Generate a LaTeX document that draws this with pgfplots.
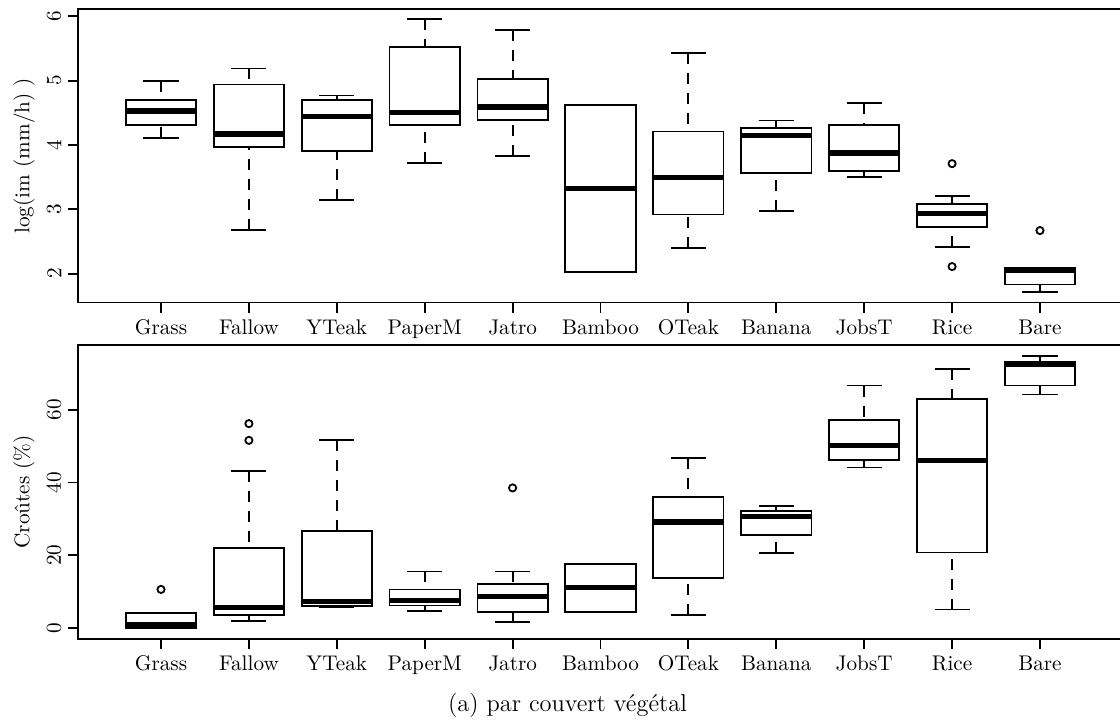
\documentclass[border=0pt]{standalone}
\usepackage{pgfplots}
\pgfplotsset{compat=1.18}
\usepgfplotslibrary{statistics}

% one box: position, lower whisker, Q1, median, Q3, upper whisker, outliers
\newcommand{\bx}[7]{\addplot[boxplot prepared={draw position=#1,
  lower whisker=#2, lower quartile=#3, median=#4,
  upper quartile=#5, upper whisker=#6}] coordinates {#7};}

\pgfplotsset{
  rbox/.style={
    scale only axis, width=522.1pt, height=146.8pt,
    anchor=south west,
    xmin=0.06, xmax=11.94,
    xtick={1,...,11},
    xticklabels={Grass,Fallow,YTeak,PaperM,Jatro,Bamboo,OTeak,Banana,JobsT,Rice,Bare},
    tick pos=left, tick align=outside, major tick length=5pt, minor tick num=0,
    axis line style={line width=0.9pt},
    tick style={line width=0.9pt, black},
    yticklabel style={rotate=90, anchor=south},
    /pgf/number format/assume math mode=true,
    ylabel style={at={(axis description cs:-0.0521,0.5)}, anchor=center},
    boxplot/draw direction=y,
    boxplot/box extend=0.8, boxplot/whisker extend=0.4,
    boxplot/every box/.style={draw=black, line width=0.9pt},
    boxplot/every median/.style={draw=black, line width=2.6pt},
    boxplot/draw/lower whisker/.code={
      \draw[black, line width=0.9pt, dash pattern=on 5.5pt off 4.5pt]
        (boxplot box cs:\pgfplotsboxplotvalue{lower whisker},0.5) --
        (boxplot box cs:\pgfplotsboxplotvalue{lower quartile},0.5);
      \draw[black, line width=0.9pt]
        (boxplot whisker cs:\pgfplotsboxplotvalue{lower whisker},0) --
        (boxplot whisker cs:\pgfplotsboxplotvalue{lower whisker},1);
    },
    boxplot/draw/upper whisker/.code={
      \draw[black, line width=0.9pt, dash pattern=on 5.5pt off 4.5pt]
        (boxplot box cs:\pgfplotsboxplotvalue{upper whisker},0.5) --
        (boxplot box cs:\pgfplotsboxplotvalue{upper quartile},0.5);
      \draw[black, line width=0.9pt]
        (boxplot whisker cs:\pgfplotsboxplotvalue{upper whisker},0) --
        (boxplot whisker cs:\pgfplotsboxplotvalue{upper whisker},1);
    },
    every axis plot/.append style={black, mark=o, mark size=1.8pt,
      mark options={solid, line width=0.9pt}},
  }
}

\begin{document}
\begin{tikzpicture}[font=\fontsize{10.6}{12.7}\selectfont]
\path[use as bounding box] (0,0) rectangle (560pt,363.5pt);

\begin{axis}[rbox, at={(39.2pt,212.2pt)},
    ymin=1.55, ymax=6.115, ytick={2,3,4,5,6},
    ylabel={log(im (mm/h) )}]
\bx{1}{4.115}{4.31}{4.53}{4.70}{5.00}{}
\bx{2}{2.68}{3.97}{4.17}{4.94}{5.19}{}
\bx{3}{3.15}{3.91}{4.44}{4.70}{4.77}{}
\bx{4}{3.72}{4.31}{4.51}{5.52}{5.96}{}
\bx{5}{3.83}{4.39}{4.59}{5.03}{5.79}{}
\bx{6}{2.03}{2.03}{3.33}{4.62}{4.62}{}
\bx{7}{2.40}{2.92}{3.50}{4.21}{5.43}{}
\bx{8}{2.98}{3.57}{4.15}{4.27}{4.38}{}
\bx{9}{3.50}{3.60}{3.875}{4.31}{4.65}{}
\bx{10}{2.41}{2.73}{2.94}{3.08}{3.21}{(0,3.71) (0,2.11)}
\bx{11}{1.71}{1.83}{2.05}{2.09}{2.09}{(0,2.67)}
\end{axis}

\begin{axis}[rbox, at={(39.2pt,44.1pt)},
    ymin=-3.05, ymax=77.8, ytick={0,20,40,60},
    ylabel={Croûtes (\%)}]
\bx{1}{0}{0}{0.75}{3.95}{3.95}{(0,10.55)}
\bx{2}{1.9}{3.5}{5.5}{22.0}{43.1}{(0,51.6) (0,56.2)}
\bx{3}{5.8}{5.9}{7.2}{26.6}{51.6}{}
\bx{4}{4.5}{6.1}{7.4}{10.5}{15.5}{}
\bx{5}{1.5}{4.4}{8.5}{12.0}{15.5}{(0,38.5)}
\bx{6}{4.4}{4.4}{11.1}{17.5}{17.5}{}
\bx{7}{3.5}{13.7}{29.1}{36.1}{46.7}{}
\bx{8}{20.5}{25.5}{30.6}{32.1}{33.6}{}
\bx{9}{44.1}{46.1}{50.2}{57.2}{66.7}{}
\bx{10}{5.0}{20.7}{46.1}{62.9}{71.2}{}
\bx{11}{64.2}{66.7}{72.5}{73.2}{74.8}{}
\end{axis}

\node[anchor=base, font=\fontsize{12.2}{14.6}\selectfont] at (283.75pt,7.65pt)
  {(a) par couvert végétal};
\end{tikzpicture}
\end{document}
